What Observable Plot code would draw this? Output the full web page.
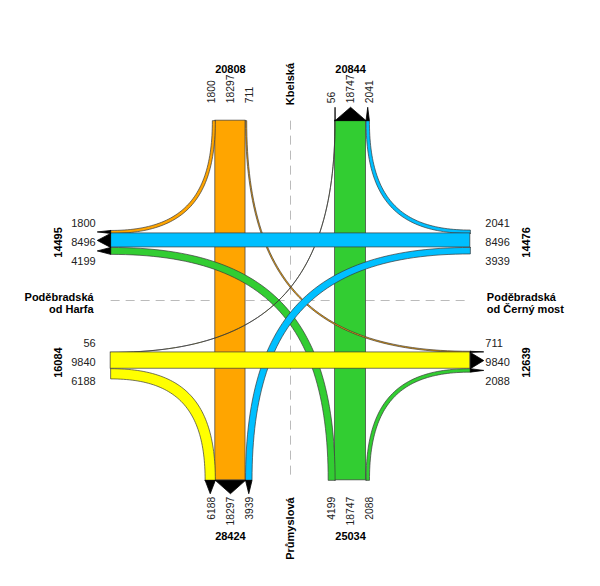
<!DOCTYPE html>
<html><head><meta charset="utf-8">
<script src="https://cdn.jsdelivr.net/npm/d3@7"></script>
<script src="https://cdn.jsdelivr.net/npm/@observablehq/plot@0.6"></script>
<style>body{margin:0;background:#fff}svg{display:block}</style>
</head><body><div id="chart"></div>
<script>
// ---- DATA: traffic flows per approach, order = [right turn, straight, left turn]
const northFlows = [1800, 18297, 711];   // Kbelská: → W, → S, → E
const southFlows = [2088, 18747, 4199];  // Průmyslová: → E, → N, → W
const westFlows  = [6188, 9840, 56];     // Poděbradská od Harfa: → S, → E, → N
const eastFlows  = [2041, 8496, 3939];   // Poděbradská od Černý most: → N, → W, → S
const armNames = ["Kbelská", "Průmyslová", "Poděbradská\nod Harfa", "Poděbradská\nod Černý most"];
const armColors = ["#ffa500", "#32cd32", "#ffff00", "#00bfff"]; // N, S, W, E origins

// ---- LAYOUT (diagram units = vehicles)
const VPX = 606;            // vehicles per pixel
const ARM = 109000;         // arm length from centre
const THRU = 36400;         // offset of through band centre
const AH = 8100;            // arrow head length
const SP = 19 * VPX;        // label spread
const A = 0.7;              // bezier control fraction

const [nR, sN, nL] = northFlows;
const [sR, sS, sL] = southFlows;
const [wR, sW, wL] = westFlows;
const [eR, sE, eL] = eastFlows;
const [colN, colS, colW, colE] = armColors;

const oL = -THRU - sN/2, oR = -THRU + sN/2;  // southbound through
const gL = THRU - sS/2,  gR = THRU + sS/2;   // northbound through
const bT = -THRU - sE/2, bB = -THRU + sE/2;  // westbound through
const yT = THRU - sW/2,  yB = THRU + sW/2;   // eastbound through

function edge(p0, p3, vert) {
  const C = vert ? [p0[0], p3[1]] : [p3[0], p0[1]];
  const p1 = [p0[0] + A*(C[0]-p0[0]), p0[1] + A*(C[1]-p0[1])];
  const p2 = [p3[0] + A*(C[0]-p3[0]), p3[1] + A*(C[1]-p3[1])];
  return d3.range(0, 61).map(i => {
    const t = i/60, u = 1-t;
    const a = u*u*u, b = 3*u*u*t, c = 3*u*t*t, d = t*t*t;
    return [a*p0[0]+b*p1[0]+c*p2[0]+d*p3[0], a*p0[1]+b*p1[1]+c*p2[1]+d*p3[1]];
  });
}

const turns = [
  {col: colN, v: true,  inner: [[oL,-ARM],[-ARM,bT]], outer: [[oL-nR,-ARM],[-ARM,bT-nR]]},
  {col: colN, v: true,  inner: [[oR,-ARM],[ARM,yT]],  outer: [[oR+nL,-ARM],[ARM,yT-nL]]},
  {col: colS, v: true,  inner: [[gR,ARM],[ARM,yB]],   outer: [[gR+sR,ARM],[ARM,yB+sR]]},
  {col: colS, v: true,  inner: [[gL,ARM],[-ARM,bB]],  outer: [[gL-sL,ARM],[-ARM,bB+sL]]},
  {col: colW, v: false, inner: [[-ARM,yB],[oL,ARM]],  outer: [[-ARM,yB+wR],[oL-wR,ARM]]},
  {col: colW, v: false, inner: [[-ARM,yT],[gL,-ARM]], outer: [[-ARM,yT-wL],[gL-wL,-ARM]]},
  {col: colE, v: false, inner: [[ARM,bT],[gR,-ARM]],  outer: [[ARM,bT-eR],[gR+eR,-ARM]]},
  {col: colE, v: false, inner: [[ARM,bB],[oR,ARM]],   outer: [[ARM,bB+eL],[oR+eL,ARM]]}
];
const turnPts = [];
turns.forEach((t, i) => {
  const e1 = edge(t.inner[0], t.inner[1], t.v);
  const e2 = edge(t.outer[0], t.outer[1], t.v).reverse();
  const poly = e1.concat(e2, [e1[0]]);
  poly.forEach(p => turnPts.push({id: i, col: t.col, x: p[0], y: p[1]}));
});

const vBands = [
  {x1: oL, x2: oR, y1: -ARM, y2: ARM, col: colN},
  {x1: gL, x2: gR, y1: -ARM, y2: ARM, col: colS}
];
const hBands = [
  {x1: -ARM, x2: ARM, y1: bT, y2: bB, col: colE},
  {x1: -ARM, x2: ARM, y1: yT, y2: yB, col: colW}
];

const arrowSegs = [
  ["N", gL-wL, gL], ["N", gL, gR], ["N", gR, gR+eR],
  ["S", oL-wR, oL], ["S", oL, oR], ["S", oR, oR+eL],
  ["W", bT-nR, bT], ["W", bT, bB], ["W", bB, bB+sL],
  ["E", yT-nL, yT], ["E", yT, yB], ["E", yB, yB+sR]
];
const arrowPts = [];
arrowSegs.forEach(([s, a, b], i) => {
  const m = (a+b)/2;
  let pts;
  if (s === "N") pts = [[a,-ARM],[b,-ARM],[m,-ARM-AH]];
  if (s === "S") pts = [[a,ARM],[b,ARM],[m,ARM+AH]];
  if (s === "W") pts = [[-ARM,a],[-ARM,b],[-ARM-AH,m]];
  if (s === "E") pts = [[ARM,a],[ARM,b],[ARM+AH,m]];
  pts.push(pts[0]);
  pts.forEach(p => arrowPts.push({id: i, x: p[0], y: p[1]}));
});

// labels
const px = v => v * VPX;
const yN = -ARM - px(17.5), yS = ARM + px(16.5), xW = -ARM - px(15), xE = ARM + px(15);
const northLabels = [
  {x: -THRU-SP, t: nR}, {x: -THRU, t: sN}, {x: -THRU+SP, t: nL},
  {x: THRU-SP, t: wL}, {x: THRU, t: sS}, {x: THRU+SP, t: eR}
];
const southLabels = [
  {x: -THRU-SP, t: wR}, {x: -THRU, t: sN}, {x: -THRU+SP, t: eL},
  {x: THRU-SP, t: sL}, {x: THRU, t: sS}, {x: THRU+SP, t: sR}
];
const westLabels = [
  {y: -THRU-SP, t: nR}, {y: -THRU, t: sE}, {y: -THRU+SP, t: sL},
  {y: THRU-SP, t: wL}, {y: THRU, t: sW}, {y: THRU+SP, t: wR}
];
const eastLabels = [
  {y: -THRU-SP, t: eR}, {y: -THRU, t: sE}, {y: -THRU+SP, t: eL},
  {y: THRU-SP, t: nL}, {y: THRU, t: sW}, {y: THRU+SP, t: sR}
];
const totN_in = d3.sum(northFlows), totS_in = d3.sum(southFlows), totW_in = d3.sum(westFlows), totE_in = d3.sum(eastFlows);
const totN_out = sS + wL + eR, totS_out = sN + wR + eL, totW_out = sE + nR + sL, totE_out = sW + nL + sR;
const vTotals = [
  {x: -THRU, y: -ARM-px(51.5), t: totN_in}, {x: THRU, y: -ARM-px(51.5), t: totN_out},
  {x: -THRU, y: ARM+px(56.5), t: totS_out}, {x: THRU, y: ARM+px(56.5), t: totS_in}
];
const hTotals = [
  {x: -ARM-px(52), y: -THRU, t: totW_out}, {x: -ARM-px(52), y: THRU, t: totW_in},
  {x: ARM+px(56), y: -THRU, t: totE_in}, {x: ARM+px(56), y: THRU, t: totE_out}
];

const font = "Liberation Sans, Arial, Helvetica, sans-serif";
const stroke = "#3a3a3a", sw = 0.7;
const txt = d => String(d.t);
const num = {fontSize: 11, fill: "#222", fontFamily: font};
const numR = {fontSize: 10.3, fill: "#222", fontFamily: font};
const bold = {fontSize: 11, fontWeight: "bold", fill: "#000", fontFamily: font};

const marks = [
  Plot.link([{x1: 0, y1: -ARM, x2: 0, y2: ARM}, {x1: -ARM, y1: 0, x2: ARM, y2: 0}],
    {x1: "x1", y1: "y1", x2: "x2", y2: "y2", stroke: "#bbbbbb", strokeWidth: 1, strokeDasharray: "9,6"}),
  Plot.rect(vBands, {x1: "x1", x2: "x2", y1: "y1", y2: "y2", fill: d => d.col, stroke, strokeWidth: sw}),
  ...armColors.map(c => Plot.line(turnPts.filter(d => d.col === c), {x: "x", y: "y", z: "id", fill: c, stroke, strokeWidth: sw})),
  Plot.rect(hBands, {x1: "x1", x2: "x2", y1: "y1", y2: "y2", fill: d => d.col, stroke, strokeWidth: sw}),
  Plot.line(arrowPts, {x: "x", y: "y", z: "id", fill: "black", stroke: "black", strokeWidth: 0.8}),
  Plot.text(northLabels, {x: "x", y: yN, text: txt, rotate: -90, textAnchor: "start", ...numR}),
  Plot.text(southLabels, {x: "x", y: yS, text: txt, rotate: -90, textAnchor: "end", ...numR}),
  Plot.text(westLabels, {x: xW, y: "y", text: txt, textAnchor: "end", dy: 2, ...num}),
  Plot.text(eastLabels, {x: xE, y: "y", text: txt, textAnchor: "start", dy: 2, ...num}),
  Plot.text(vTotals, {x: "x", y: "y", text: txt, ...bold}),
  Plot.text(hTotals, {x: "x", y: "y", text: txt, rotate: -90, dy: 2, ...bold}),
  Plot.text([armNames[0]], {x: 0, y: -ARM-px(15.5), text: d => d, rotate: -90, textAnchor: "start", ...bold}),
  Plot.text([armNames[1]], {x: 0, y: ARM+px(17), text: d => d, rotate: -90, textAnchor: "end", ...bold}),
  Plot.text([armNames[2]], {x: -ARM-px(17), y: px(3), text: d => d, textAnchor: "end", lineHeight: 1.1, ...bold}),
  Plot.text([armNames[3]], {x: ARM+px(16.5), y: px(3), text: d => d, textAnchor: "start", lineHeight: 1.1, ...bold})
];

const chart = Plot.plot({
  width: 600, height: 586, margin: 0,
  x: {domain: [-290*VPX, 310*VPX], range: [0, 600], axis: null},
  y: {domain: [-300*VPX, 286*VPX], range: [0, 586], axis: null},
  style: {background: "#fff", fontFamily: font},
  marks
});
document.getElementById("chart").appendChild(chart);
</script>
</body></html>
